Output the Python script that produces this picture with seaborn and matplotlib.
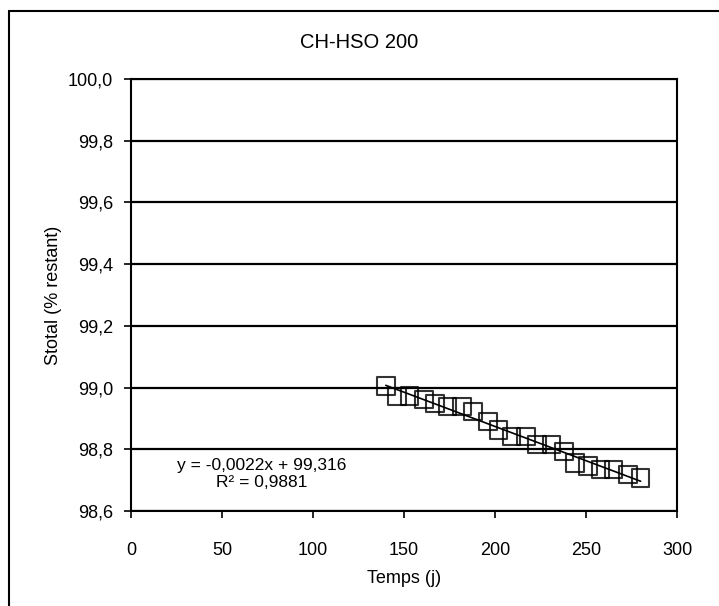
import matplotlib
matplotlib.use("Agg")
import matplotlib.pyplot as plt
from matplotlib.lines import Line2D
import seaborn as sns
import numpy as np
import pandas as pd

# Data
temps = [140, 146, 153, 161, 167, 174, 182, 188, 196, 202, 209,
         217, 223, 231, 238, 244, 251, 258, 265, 273, 280]
stotal = [99.005, 98.971, 98.973, 98.962, 98.949, 98.939, 98.939, 98.923,
          98.890, 98.863, 98.842, 98.842, 98.815, 98.815, 98.793, 98.756,
          98.745, 98.734, 98.734, 98.718, 98.707]
x_ticks = [0, 50, 100, 150, 200, 250, 300]
y_ticks = [98.6, 98.8, 99.0, 99.2, 99.4, 99.6, 99.8, 100.0]
title = "CH-HSO 200"
xlabel = "Temps (j)"
ylabel = "Stotal (% restant)"
eq_text = "y = -0,0022x + 99,316"
r2_text = "R² = 0,9881"

sns.set_theme(style="white")
plt.rcParams['font.family'] = ['Liberation Sans', 'DejaVu Sans']

df = pd.DataFrame({"Temps": temps, "Stotal": stotal})

fig = plt.figure(figsize=(7.19, 6.06), dpi=100)
ax = fig.add_axes([131/719, 1 - 511/606, (677-131)/719, (511-79)/606])

sns.regplot(data=df, x="Temps", y="Stotal", ax=ax, ci=None, marker="s",
            scatter_kws={"facecolors": "none", "edgecolors": "black",
                         "s": 160, "linewidths": 1.5, "zorder": 3},
            line_kws={"color": "black", "linewidth": 1.2, "zorder": 4})

ax.set_xlim(0, 300)
ax.set_ylim(98.6, 100.0)
ax.set_xticks(x_ticks)
ax.set_yticks(y_ticks)
ax.set_xticklabels([str(t) for t in x_ticks])
ax.set_yticklabels([f"{v:.1f}".replace(".", ",") for v in y_ticks])
ax.yaxis.grid(True, color="black", linewidth=1.6)
ax.xaxis.grid(False)
ax.set_axisbelow(True)
for s in ax.spines.values():
    s.set_color("black")
    s.set_linewidth(1.5)
ax.tick_params(axis="both", which="major", direction="out", length=5,
               width=1.2, color="black", labelsize=13, labelcolor="black",
               left=True, bottom=True)
ax.tick_params(axis="x", pad=17)
ax.tick_params(axis="y", pad=8)
ax.set_xlabel(xlabel, fontsize=13, color="black", labelpad=8)
ax.set_ylabel(ylabel, fontsize=13, color="black", labelpad=4)

fig.text(0.5, 1 - 42/606, title, ha="center", va="center", fontsize=14.5, color="black")

ax.text(72, 98.749, eq_text, ha="center", va="center", fontsize=12.5, color="black")
ax.text(72, 98.691, r2_text, ha="center", va="center", fontsize=12.5, color="black")

# outer frame (top and left edges)
fig.add_artist(Line2D([9/719, 1.0], [1 - 11/606, 1 - 11/606], color="black",
                      linewidth=1.5, transform=fig.transFigure))
fig.add_artist(Line2D([9/719, 9/719], [0.0, 1 - 11/606], color="black",
                      linewidth=1.5, transform=fig.transFigure))

fig.savefig("out.png", dpi=100, facecolor="white")
